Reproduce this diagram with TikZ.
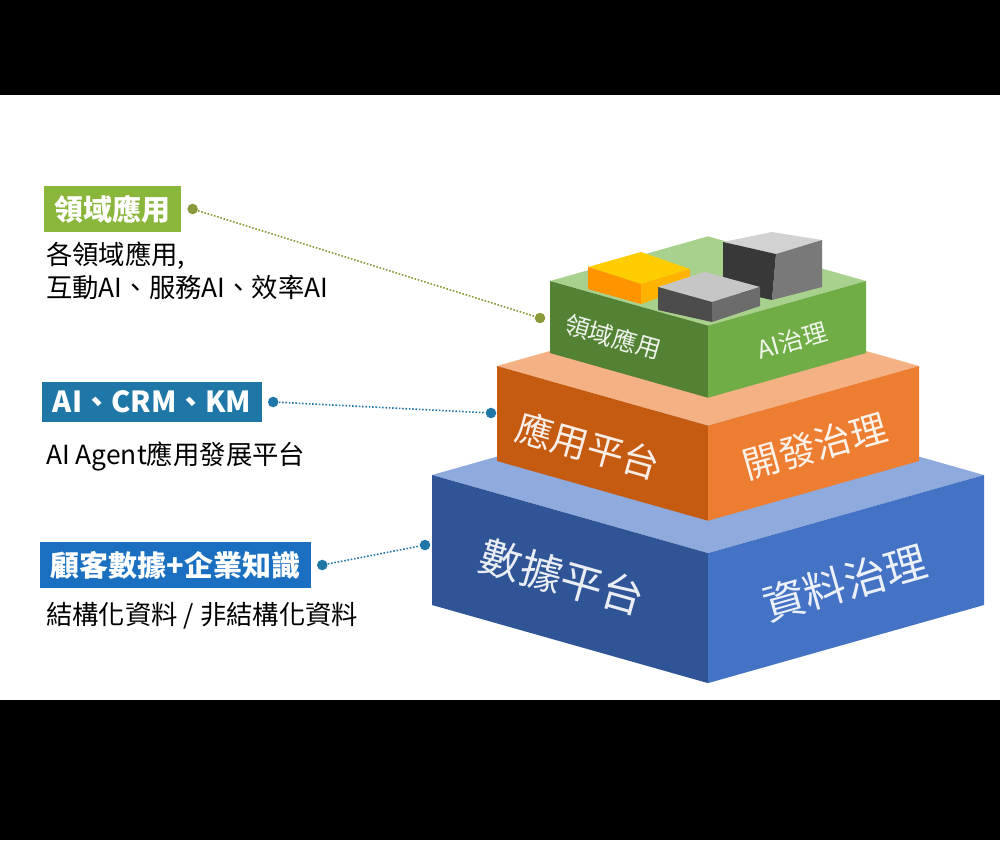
\documentclass[tikz,border=0pt]{standalone}
\usepackage{fontspec}
\setmainfont{Noto Sans CJK TC}
\usepackage{tikz}
\usetikzlibrary{positioning}

\definecolor{blueL}{HTML}{2F5597}
\definecolor{blueR}{HTML}{4472C4}
\definecolor{blueT}{HTML}{8FAADC}
\definecolor{orgL}{HTML}{C55A11}
\definecolor{orgR}{HTML}{ED7D31}
\definecolor{orgT}{HTML}{F4B183}
\definecolor{grnL}{HTML}{548235}
\definecolor{grnR}{HTML}{70AD47}
\definecolor{grnT}{HTML}{A9D18E}
\definecolor{tagG}{HTML}{8AB63C}
\definecolor{tagT}{HTML}{1F77A8}
\definecolor{tagB}{HTML}{1B6FC0}
\definecolor{dotG}{HTML}{8A9A3A}

% one tier: half width, y of side corners, height, colour prefix
\newcommand{\tier}[4]{%
  \fill[#4T] (708-#1,#2) -- (708,#2+0.283*#1) -- (708+#1,#2) -- (708,#2-0.283*#1) -- cycle;
  \fill[#4L] (708-#1,#2) -- (708,#2+0.283*#1) -- ++(0,#3) -- (708-#1,#2+#3) -- cycle;
  \fill[#4R] (708+#1,#2) -- (708,#2+0.283*#1) -- ++(0,#3) -- (708+#1,#2+#3) -- cycle;
}

\tikzset{
  tag/.style={text=white, font=\bfseries\fontsize{16.5}{20}\selectfont, inner xsep=6pt, inner ysep=5pt, anchor=west},
  note/.style={font=\fontsize{15}{19}\selectfont, anchor=west, align=left},
  face/.style={text=white, opacity=0.9},
  dot/.style={circle, fill=#1, inner sep=0pt, minimum size=6pt},
  link/.style={densely dotted, line width=0.9pt}
}

\begin{document}
\begin{tikzpicture}[x=0.02cm, y=-0.02cm]
\useasboundingbox (0,0) rectangle (1000,840);
\fill[black] (0,0) rectangle (1000,95);
\fill[black] (0,700) rectangle (1000,840);

\tier{276}{475}{130}{blue}
\tier{211}{366}{95}{org}
\tier{158}{281}{72}{grn}

% blocks on top
\fill[gray!35] (723,242) -- (772,232) -- (822,240) -- (776,254) -- cycle;
\fill[black!78] (723,242) -- (776,254) -- (772,300) -- (723,289) -- cycle;
\fill[gray!95!black] (776,254) -- (822,240) -- (822,287) -- (772,300) -- cycle;
\fill[orange!40!yellow] (588,267) -- (641,252) -- (690,269) -- (641,284) -- cycle;
\fill[orange!85!yellow] (588,267) -- (641,284) -- (641,304) -- (588,289) -- cycle;
\fill[orange!60!yellow] (641,284) -- (690,269) -- (690,287) -- (641,304) -- cycle;
\fill[gray!45] (658,287) -- (705,272) -- (760,287) -- (712,302) -- cycle;
\fill[gray!60!black] (658,287) -- (712,302) -- (712,322) -- (658,310) -- cycle;
\fill[gray!85!black] (712,302) -- (760,287) -- (760,306) -- (712,322) -- cycle;

% face texts
\node[face, rotate=-15.8, font=\fontsize{24}{24}\selectfont] (dataL) at (562,577) {數據平台};
\node[face, rotate=15.8, font=\fontsize{24}{24}\selectfont] (dataR) at (845,583) {資料治理};
\node[face, rotate=-15.8, font=\fontsize{21}{21}\selectfont] (appL) at (588,446) {應用平台};
\node[face, rotate=15.8, font=\fontsize{21}{21}\selectfont] (appR) at (815,446) {開發治理};
\node[face, rotate=-15.8, font=\fontsize{14}{14}\selectfont] (domL) at (613,337) {領域應用};
\node[face, rotate=15.8, font=\fontsize{14}{14}\selectfont] (domR) at (792,341) {AI治理};

% tags
\node[tag, fill=tagG] (domTag) at (44,209) {領域應用};
\node[note] (domNote) at (40,271) {各領域應用,\\互動AI、服務AI、效率AI};
\node[tag, fill=tagT] (appTag) at (42,402) {AI、CRM、KM};
\node[note] (appNote) at (40,456) {AI Agent應用發展平台};
\node[tag, fill=tagB] (dataTag) at (40,565) {顧客數據+企業知識};
\node[note] (dataNote) at (40,616) {結構化資料 / 非結構化資料};

% connectors
\node[dot=dotG, right=3pt of domTag] (domA) {};
\node[dot=dotG] (domB) at (540,318) {};
\draw[link, dotG] (domA) -- (domB);
\node[dot=tagT, right=3pt of appTag] (appA) {};
\node[dot=tagT] (appB) at (491,413) {};
\draw[link, tagT] (appA) -- (appB);
\node[dot=tagT, right=3pt of dataTag] (dataA) {};
\node[dot=tagT] (dataB) at (425,545) {};
\draw[link, tagT] (dataA) -- (dataB);
\end{tikzpicture}
\end{document}
